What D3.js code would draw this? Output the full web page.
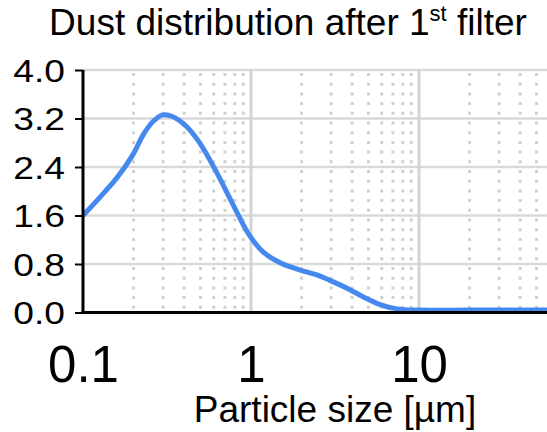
<!DOCTYPE html>
<html>
<head>
<meta charset="utf-8">
<script src="https://cdn.jsdelivr.net/npm/d3@7"></script>
<style>
  html, body { margin: 0; padding: 0; background: #fff; }
  svg { display: block; font-family: "Liberation Sans", Arial, sans-serif; }
</style>
</head>
<body>
<svg id="chart" width="547" height="432"></svg>
<script>
// ---- data ----
const sizes  = [0.1, 0.126, 0.159, 0.198, 0.228, 0.261, 0.299, 0.343, 0.416, 0.497, 0.628, 0.781, 0.986, 1.18, 1.49, 1.96, 2.47, 2.95, 3.73, 4.64, 5.86, 7.4, 10.1, 20, 60];
const values = [1.60, 1.90, 2.22, 2.60, 2.93, 3.15, 3.26, 3.23, 3.06, 2.79, 2.30, 1.78, 1.26, 1.00, 0.82, 0.70, 0.62, 0.53, 0.40, 0.26, 0.13, 0.06, 0.04, 0.04, 0.04];
const yTicks = [0, 0.8, 1.6, 2.4, 3.2, 4.0];
const xTicks = [0.1, 1, 10];
const xMinor = [0.2,0.3,0.4,0.5,0.6,0.7,0.8,0.9, 2,3,4,5,6,7,8,9, 20,30,40,50,60,70,80,90];
const titleMain = "Dust distribution after 1";
const titleSup = "st";
const titleEnd = " filter";
const xTitle = "Particle size [\u00b5m]";

// ---- layout ----
const FONT = '"Liberation Sans", Arial, sans-serif';
const W = 547, H = 432;
const padL = 83, padT = 70, baseY = 312.5;
const svg = d3.select("#chart").attr("font-family", FONT);

const x = d3.scaleLog().domain([0.1, 100]).range([padL, padL + 3 * 168]);
const y = d3.scaleLinear().domain([0, 4]).range([baseY, padT]);

svg.append("defs").append("clipPath").attr("id", "plotclip")
  .append("rect").attr("x", padL).attr("y", 0).attr("width", W - padL).attr("height", baseY + 2);

const grid = svg.append("g").attr("clip-path", "url(#plotclip)");

// minor dotted vertical lines
grid.selectAll("line.minor").data(xMinor).join("line")
  .attr("class", "minor")
  .attr("x1", d => x(d)).attr("x2", d => x(d))
  .attr("y1", y(4) + 3).attr("y2", baseY)
  .attr("stroke", "#d0d0d0").attr("stroke-width", 3)
  .attr("stroke-dasharray", "3,6.7");

// major horizontal gridlines
grid.selectAll("line.hgrid").data(yTicks.filter(d => d > 0)).join("line")
  .attr("class", "hgrid")
  .attr("x1", padL).attr("x2", W)
  .attr("y1", d => y(d)).attr("y2", d => y(d))
  .attr("stroke", "#d9d9d9").attr("stroke-width", 2.5);

// major vertical gridlines
grid.selectAll("line.vgrid").data(xTicks.filter(d => d > 0.1)).join("line")
  .attr("class", "vgrid")
  .attr("x1", d => x(d)).attr("x2", d => x(d))
  .attr("y1", padT).attr("y2", baseY)
  .attr("stroke", "#d4d4d4").attr("stroke-width", 3);

// curve
const line = d3.line()
  .x((d, i) => x(sizes[i]))
  .y(d => y(d))
  .curve(d3.curveCatmullRom.alpha(0.5));

grid.append("path")
  .datum(values)
  .attr("d", line)
  .attr("fill", "none")
  .attr("stroke", "#4589ee")
  .attr("stroke-width", 5)
  .attr("stroke-linejoin", "round")
  .attr("stroke-linecap", "round");

// y axis
const yAxis = d3.axisLeft(y).tickValues(yTicks).tickSize(8).tickFormat(d3.format(".1f"));
const gy = svg.append("g").attr("transform", `translate(${padL},0)`).call(yAxis)
  .attr("font-family", FONT);
gy.select(".domain").attr("stroke", "#000").attr("stroke-width", 3).attr("d", `M0,${padT}V${baseY}`);
gy.selectAll(".tick line").attr("stroke", "#000").attr("stroke-width", 2);
gy.selectAll(".tick text")
  .attr("font-size", 31).attr("fill", "#000")
  .attr("x", 0).attr("dy", null).attr("y", 11)
  .attr("text-anchor", "end")
  .attr("transform", "translate(-18,0) scale(1.2,1)");

// x axis
const xAxis = d3.axisBottom(x).tickValues(xTicks).tickSize(0).tickFormat(d => d3.format("~g")(d));
const gx = svg.append("g").attr("transform", `translate(0,${baseY})`).call(xAxis)
  .attr("font-family", FONT);
gx.select(".domain").attr("stroke", "#000").attr("stroke-width", 3).attr("d", `M${padL - 1.5},0H${W}`);
gx.selectAll(".tick text")
  .attr("font-size", 51).attr("fill", "#000")
  .attr("dy", null).attr("y", 69.5);

// titles
const t = svg.append("text")
  .attr("x", 288).attr("y", 35)
  .attr("text-anchor", "middle")
  .attr("font-size", 37).attr("fill", "#000");
t.append("tspan").text(titleMain);
t.append("tspan").attr("font-size", 22).attr("dy", -14).text(titleSup);
t.append("tspan").attr("dy", 14).text(titleEnd);

svg.append("text")
  .attr("x", 335).attr("y", 421.5)
  .attr("text-anchor", "middle")
  .attr("font-size", 37).attr("fill", "#000")
  .text(xTitle);
</script>
</body>
</html>
